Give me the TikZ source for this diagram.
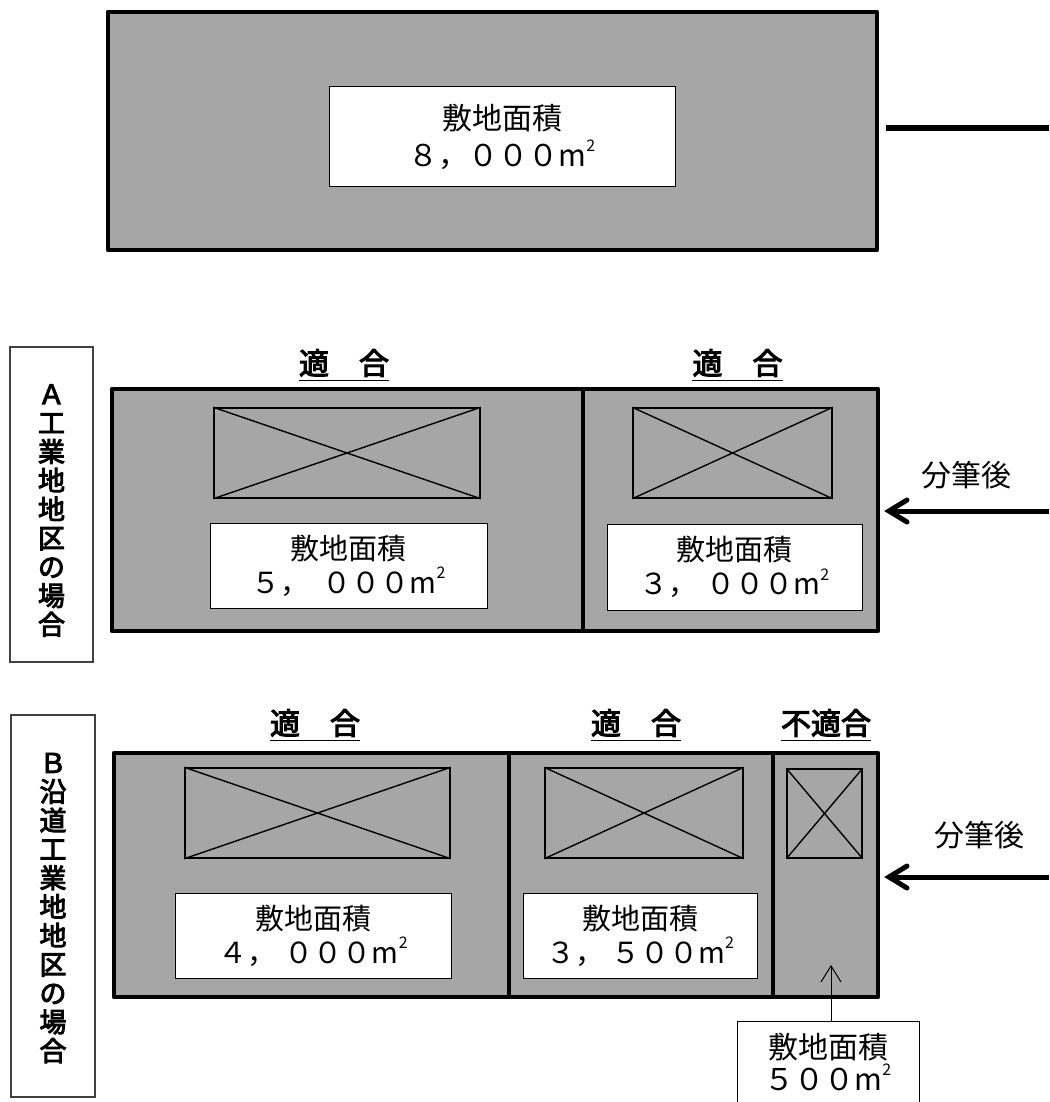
\documentclass[tikz,border=0pt]{standalone}
\usepackage{fontspec}
\setmainfont{Noto Sans CJK JP}
\newfontfamily\jpbold[FakeBold=3.5]{Noto Sans CJK JP}
\usetikzlibrary{fit,arrows.meta}
\definecolor{siteGray}{HTML}{A6A6A6}
\newcommand\msq{m\raisebox{.5em}{\fontsize{8}{8}\selectfont 2}}
\begin{document}
\begin{tikzpicture}[x=0.5pt,y=-0.5pt,
  site/.style={draw, line width=2.2pt, fill=siteGray, inner sep=0pt, line join=round},
  divider/.style={line width=2pt},
  bldg/.style={draw, line width=0.7pt, inner sep=0pt},
  xline/.style={line width=0.7pt},
  area/.style={draw, line width=0.5pt, fill=white, inner sep=0pt},
  areatext/.style={align=center, inner sep=0pt, font=\fontsize{14.5}{17}\selectfont},
  sidebox/.style={draw=black!75, line width=0.7pt, inner sep=0pt},
  sidetext/.style={align=center, inner sep=0pt, font=\jpbold\fontsize{13.5}{14.4}\selectfont},
  verdict/.style={inner sep=0pt, font=\jpbold\fontsize{15}{16}\selectfont},
  ul/.style={line width=0.7pt},
  aftertext/.style={inner sep=0pt, font=\fontsize{15}{16}\selectfont},
  bigarrow/.style={line width=2.5pt, -{Straight Barb[length=9pt,width=11pt,line cap=round]}, shorten >=2pt},
  thinarrow/.style={line width=0.5pt, -{Straight Barb[length=8pt,width=10pt]}},
  leadline/.style={line width=3pt}
]
\useasboundingbox (0,0) rectangle (1049,1102);

% ---------- top: original site ----------
\node[site, fit={(108,12)(877,250)}] (T) {};
\node[area, fit={(329,87)(675,186)}] (wT) {};
\node[areatext, font=\fontsize{15}{18.5}\selectfont] (tT) at (wT.center) {敷地面積\\８，０００\msq};
\coordinate (tlR) at (1049,128);
\draw[leadline, shorten >=3.5pt] (tlR) -- (tlR -| T.east);

% ---------- row A ----------
\node[sidebox, fit={(10,347)(93,662)}] (labA) {};
\node[sidetext] (labAt) at ([yshift=-3pt]labA.center) {Ａ\\工\\業\\地\\地\\区\\の\\場\\合};

\node[site, fit={(112,389)(878,631)}] (rA) {};
\coordinate (dAt) at (583,389);
\draw[divider] (dAt) -- (dAt |- rA.south);

\node[bldg, fit={(214,408)(480,498)}] (bA1) {};
\draw[xline] (bA1.north west) -- (bA1.south east) (bA1.north east) -- (bA1.south west);
\node[bldg, fit={(633,408)(832,498)}] (bA2) {};
\draw[xline] (bA2.north west) -- (bA2.south east) (bA2.north east) -- (bA2.south west);

\node[area, fit={(210,523)(487,608)}] (wA1) {};
\node[areatext] (tA1) at (wA1.center) {敷地面積\\５，\hspace{0.45em}０００\msq};
\node[area, fit={(607,524)(862,610)}] (wA2) {};
\node[areatext] (tA2) at (wA2.center) {敷地面積\\３，\hspace{0.3em}０００\msq};

\node[verdict] (vA1) at (344,363) {適　合};
\draw[ul] ([yshift=-1.5pt]vA1.south west) -- ([yshift=-1.5pt]vA1.south east);
\node[verdict] (vA2) at (737.5,363) {適　合};
\draw[ul] ([yshift=-1.5pt]vA2.south west) -- ([yshift=-1.5pt]vA2.south east);

\node[aftertext] (fA) at (966,475) {分筆後};
\coordinate (aA) at (1049,511);
\draw[bigarrow] (aA) -- (aA -| rA.east);

% ---------- row B ----------
\node[sidebox, fit={(11,715)(95,1097)}] (labB) {};
\node[sidetext] (labBt) at ([yshift=-1pt]labB.center) {Ｂ\\沿\\道\\工\\業\\地\\地\\区\\の\\場\\合};

\node[site, fit={(114,753)(878,997)}] (rB) {};
\coordinate (dB1) at (509,753);
\coordinate (dB2) at (773,753);
\draw[divider] (dB1) -- (dB1 |- rB.south);
\draw[divider] (dB2) -- (dB2 |- rB.south);

\node[bldg, fit={(185,768)(450,858)}] (bB1) {};
\draw[xline] (bB1.north west) -- (bB1.south east) (bB1.north east) -- (bB1.south west);
\node[bldg, fit={(545,768)(743,858)}] (bB2) {};
\draw[xline] (bB2.north west) -- (bB2.south east) (bB2.north east) -- (bB2.south west);
\node[bldg, fit={(787,769)(862,858)}] (bB3) {};
\draw[xline] (bB3.north west) -- (bB3.south east) (bB3.north east) -- (bB3.south west);

\node[area, fit={(175,893)(451,978)}] (wB1) {};
\node[areatext] (tB1) at (wB1.center) {敷地面積\\４，\hspace{0.3em}０００\msq};
\node[area, fit={(523,893)(757,978)}] (wB2) {};
\node[areatext] (tB2) at (wB2.center) {敷地面積\\３，\hspace{0.25em}５００\msq};

\node[verdict] (vB1) at (315,723) {適　合};
\draw[ul] ([yshift=-1.5pt]vB1.south west) -- ([yshift=-1.5pt]vB1.south east);
\node[verdict] (vB2) at (636,723) {適　合};
\draw[ul] ([yshift=-1.5pt]vB2.south west) -- ([yshift=-1.5pt]vB2.south east);
\node[verdict] (vB3) at (826,723) {不適合};
\draw[ul] ([yshift=-1.5pt]vB3.south west) -- ([yshift=-1.5pt]vB3.south east);

\node[aftertext] (fB) at (979,835) {分筆後};
\coordinate (aB) at (1049,877);
\draw[bigarrow] (aB) -- (aB -| rB.east);

\node[area, fit={(737,1021)(919,1110)}] (wB3) {};
\node[areatext, font=\fontsize{15}{16}\selectfont] (tB3) at (828,1062) {敷地面積\\５００\msq};
\coordinate (pB3) at (831,965);
\draw[thinarrow] (wB3.north -| pB3) -- (pB3);
\end{tikzpicture}
\end{document}
